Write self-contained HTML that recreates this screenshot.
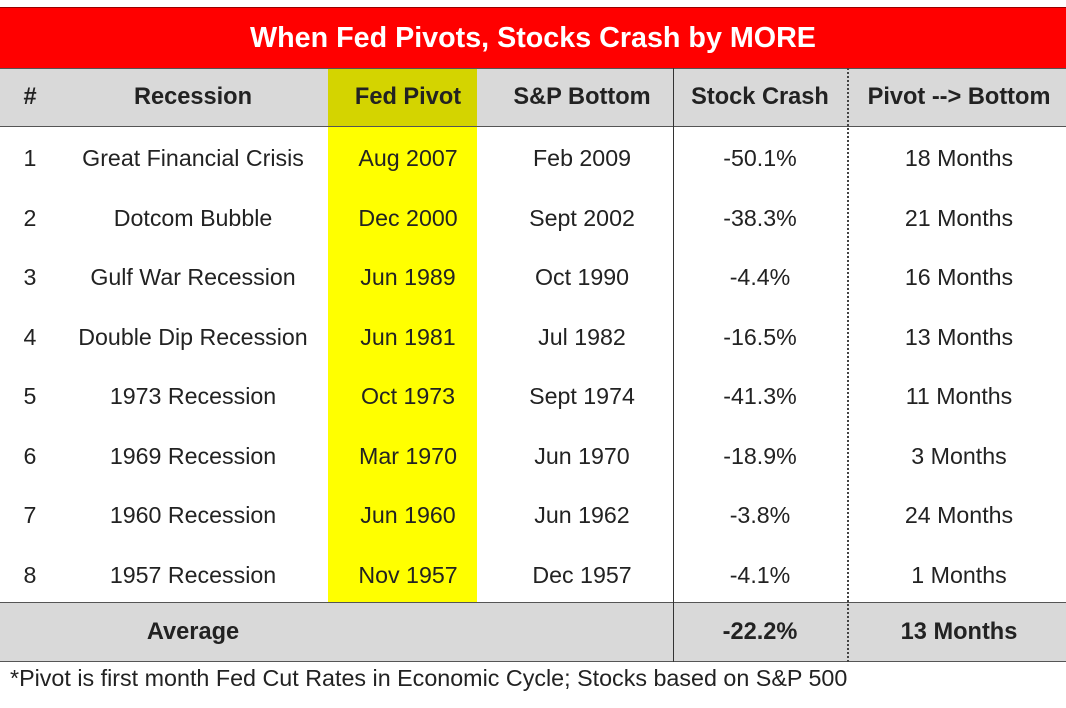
<!DOCTYPE html>
<html><head><meta charset="utf-8"><style>
body{margin:0;width:1066px;height:708px;background:#fff;position:relative;overflow:hidden;font-family:"Liberation Sans",Arial,sans-serif;color:#222}
.a{position:absolute;box-sizing:border-box}
.c{position:absolute;text-align:center;white-space:nowrap;transform:translateX(-50%)}
</style></head><body>
<div class="a" style="left:0;top:7px;width:1066px;height:61px;background:#ff0000;border-top:1px solid #900;color:#fff;font-weight:bold;font-size:28.7px;line-height:60px;text-align:center">When Fed Pivots, Stocks Crash by MORE</div>
<div class="a" style="left:0;top:68px;width:1066px;height:59px;background:#d9d9d9;border-top:1px solid #555;border-bottom:1px solid #555"></div>
<div class="a" style="left:328px;top:69px;width:149px;height:57px;background:#d4d400"></div>
<div class="a" style="left:328px;top:127px;width:149px;height:475px;background:#ffff00"></div>
<div class="a" style="left:0;top:602px;width:1066px;height:60px;background:#d9d9d9;border-top:1px solid #555;border-bottom:1px solid #555"></div>
<div class="a" style="left:673px;top:68px;width:1px;height:594px;background:#333"></div>
<div class="a" style="left:847px;top:68px;width:0;height:594px;border-left:2px dotted #444"></div>
<div id="t"></div>
<div class="a" style="left:10px;top:664px;font-size:23.3px;line-height:28px;color:#222">*Pivot is first month Fed Cut Rates in Economic Cycle; Stocks based on S&amp;P 500</div>
<script>
const headers=["#","Recession","Fed Pivot","S&P Bottom","Stock Crash","Pivot --> Bottom"];
const recessions=["Great Financial Crisis","Dotcom Bubble","Gulf War Recession","Double Dip Recession","1973 Recession","1969 Recession","1960 Recession","1957 Recession"];
const pivots=["Aug 2007","Dec 2000","Jun 1989","Jun 1981","Oct 1973","Mar 1970","Jun 1960","Nov 1957"];
const bottoms=["Feb 2009","Sept 2002","Oct 1990","Jul 1982","Sept 1974","Jun 1970","Jun 1962","Dec 1957"];
const crashes=[-50.1,-38.3,-4.4,-16.5,-41.3,-18.9,-3.8,-4.1];
const months=[18,21,16,13,11,3,24,1];
const colX=[30,193,408,582,760,959];
const t=document.getElementById('t');
function cell(x,y,txt,bold,size){const d=document.createElement('div');d.className='c';d.style.left=x+'px';d.style.top=y+'px';d.style.fontSize=size+'px';d.style.lineHeight='30px';if(bold){d.style.fontWeight='bold';}d.textContent=txt;t.appendChild(d);return d;}
headers.forEach((h,i)=>{const e=cell(colX[i],82,h,true,23.6);

});
recessions.forEach((r,i)=>{const y=143+i*59.5;
const vals=[String(i+1),r,pivots[i],bottoms[i],crashes[i].toFixed(1)+'%',months[i]+' Months'];
vals.forEach((v,j)=>{const e=cell(colX[j],y,v,false,23.2);

});});
const avgC=crashes.reduce((a,b)=>a+b,0)/crashes.length;
const avgM=Math.round(months.reduce((a,b)=>a+b,0)/months.length);
let e=cell(193,617,'Average',true,23.6);


e=cell(760,617,avgC.toFixed(1)+'%',true,23.6);


e=cell(959,617,avgM+' Months',true,23.6);


</script>
</body></html>
